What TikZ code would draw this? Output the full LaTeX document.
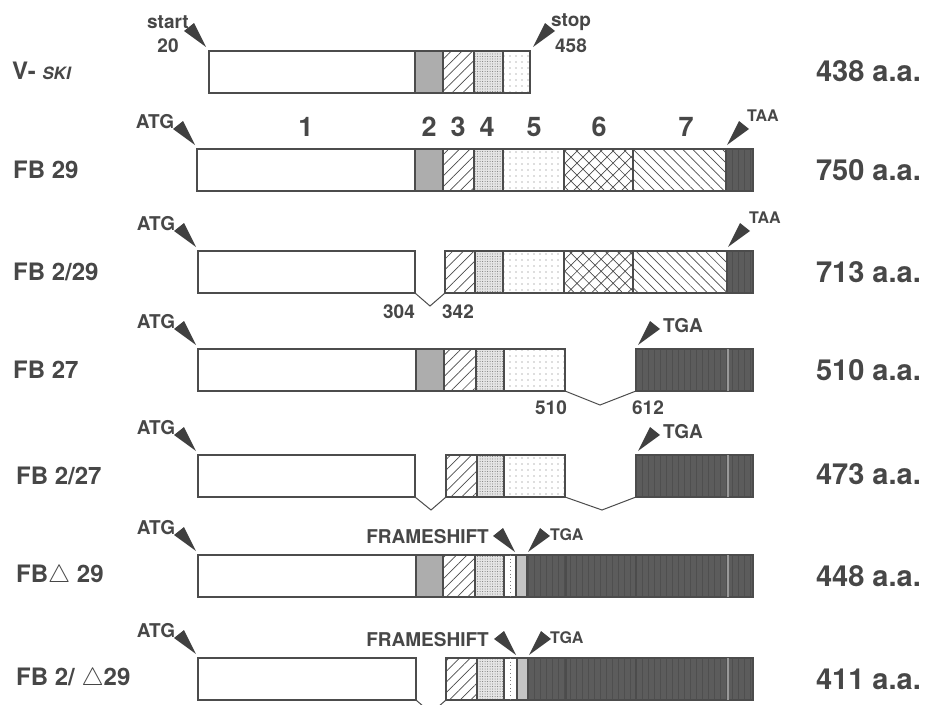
\documentclass[tikz,border=0pt]{standalone}
\usepackage{fontspec}
\setmainfont{TeX Gyre Heros}
\usetikzlibrary{patterns.meta,calc}
\definecolor{ink}{gray}{0.30}
\definecolor{txt}{gray}{0.28}
\definecolor{wedgec}{gray}{0.25}
\tikzset{
 seg/.style={draw=ink, line width=1.1pt, inner sep=0pt, outer sep=0pt, rectangle, anchor=north west, minimum height=42pt},
 whiteseg/.style={seg, fill=white},
 segB/.style={seg, preaction={fill=black!30}, pattern={Dots[distance=2pt, radius=0.45pt]}, pattern color=black!50},
 segC/.style={seg, pattern={Lines[angle=45, distance=7.5pt, line width=0.7pt]}, pattern color=black!70},
 segD/.style={seg, preaction={fill=black!10}, pattern={Dots[distance=2.5pt, radius=0.5pt]}, pattern color=black!55},
 segE/.style={seg, pattern={Dots[distance=6pt, radius=0.6pt]}, pattern color=black!55},
 segF/.style={seg, pattern={Hatch[angle=45, distance=8.5pt, line width=0.7pt]}, pattern color=black!70},
 segG/.style={seg, pattern={Lines[angle=135, distance=7pt, line width=0.7pt]}, pattern color=black!70},
 segX/.style={seg, fill=white},
 segY/.style={seg, preaction={fill=black!20}, pattern={Dots[distance=2pt, radius=0.45pt]}, pattern color=black!55},
 darkseg/.style={seg, preaction={fill=black!64}, pattern={Lines[angle=90, distance=6pt, line width=0.8pt]}, pattern color=black!69},
 divider/.style={draw=black!40, line width=1.3pt},
 dotline/.style={draw=black!50, line width=0.7pt, dash pattern=on 0.7pt off 3pt},
 splice/.style={draw=ink, line width=1pt},
 wedge/.style={fill=wedgec},
 rowlab/.style={anchor=west, font=\fontsize{24}{24}\selectfont\bfseries, text=txt, inner sep=0pt},
 aalab/.style={anchor=east, font=\fontsize{29}{29}\selectfont\bfseries, text=txt, inner sep=0pt},
 numlab/.style={font=\fontsize{27}{27}\selectfont\bfseries, text=txt, inner sep=0pt},
 codon/.style={font=\fontsize{19}{19}\selectfont\bfseries, text=txt, inner sep=0pt},
 smallcodon/.style={font=\fontsize{16}{16}\selectfont\bfseries, text=txt, inner sep=0pt},
 poslab/.style={font=\fontsize{19}{19}\selectfont\bfseries, text=txt, inner sep=0pt},
}
\newcommand\segm[5]{\node[#5, minimum width={(#3-#2)*1pt}] (#1) at (#2,#4) {};}
\newcommand\wdgL[1]{\fill[wedge] (#1) -- ++(-22,-16) -- ++(10,-8) -- cycle;}
\newcommand\wdgR[1]{\fill[wedge] (#1) -- ++(22,-16) -- ++(-10,-8) -- cycle;}
\begin{document}
\begin{tikzpicture}[x=1pt,y=-1pt]
\useasboundingbox (0,0) rectangle (925,704);
\clip (0,0) rectangle (925,704);
\fill[white] (0,0) rectangle (925,704);

% ---------- Row 1: V-SKI
\segm{r1w}{209}{415}{51}{whiteseg}
\segm{r1b}{415}{443}{51}{segB}
\segm{r1c}{443}{474}{51}{segC}
\segm{r1d}{474}{503}{51}{segD}
\segm{r1e}{503}{530}{51}{segE}
\node[rowlab] (l1) at (12,71) {V- {\itshape\fontsize{17}{17}\selectfont SKI}};
\node[aalab] (a1) at (921,71) {438 a.a.};
\node[codon] (st1) at (168,22) {start};
\node[codon] (st2) at (168,46) {20};
\node[codon] (sp1) at (571,22) {stop};
\node[codon] (sp2) at (571,46) {458};
\coordinate (t1a) at (206,47); \wdgL{t1a}
\coordinate (t1b) at (533,47); \wdgR{t1b}

% ---------- Row 2: FB 29
\segm{r2w}{197}{415}{149}{whiteseg}
\segm{r2b}{415}{443}{149}{segB}
\segm{r2c}{443}{474}{149}{segC}
\segm{r2d}{474}{503}{149}{segD}
\segm{r2e}{503}{564}{149}{segE}
\segm{r2f}{564}{633}{149}{segF}
\segm{r2g}{633}{726}{149}{segG}
\segm{r2h}{726}{753}{149}{darkseg}
\node[rowlab] (l2) at (13,170) {FB 29};
\node[aalab] (a2) at (921,170) {750 a.a.};
\node[codon] (atg2) at (155,122) {ATG};
\node[smallcodon, anchor=west] (taa2) at (747,116) {TAA};
\coordinate (t2a) at (195,145); \wdgL{t2a}
\coordinate (t2b) at (727,145); \wdgR{t2b}
\node[numlab] (n1) at (306,127) {1};
\node[numlab] (n2) at (429,127) {2};
\node[numlab] (n3) at (458,127) {3};
\node[numlab] (n4) at (487,127) {4};
\node[numlab] (n5) at (534,127) {5};
\node[numlab] (n6) at (599,127) {6};
\node[numlab] (n7) at (686,127) {7};

% ---------- Row 3: FB 2/29
\segm{r3w}{198}{415}{251}{whiteseg}
\segm{r3c}{445}{475}{251}{segC}
\segm{r3d}{475}{503}{251}{segD}
\segm{r3e}{503}{564}{251}{segE}
\segm{r3f}{564}{633}{251}{segF}
\segm{r3g}{633}{727}{251}{segG}
\segm{r3h}{727}{753}{251}{darkseg}
\coordinate (v3) at (430,306);
\draw[splice] (r3w.south east) -- (v3) -- (r3c.south west);
\node[rowlab] (l3) at (13,272) {FB 2/29};
\node[aalab] (a3) at (921,272) {713 a.a.};
\node[codon] (atg3) at (156,224) {ATG};
\node[smallcodon, anchor=west] (taa3) at (749,218) {TAA};
\coordinate (t3a) at (196,247); \wdgL{t3a}
\coordinate (t3b) at (728,247); \wdgR{t3b}
\node[poslab] (p304) at (399,312) {304};
\node[poslab] (p342) at (458,312) {342};

% ---------- Row 4: FB 27
\segm{r4w}{198}{416}{349}{whiteseg}
\segm{r4b}{416}{444}{349}{segB}
\segm{r4c}{444}{476}{349}{segC}
\segm{r4d}{476}{504}{349}{segD}
\segm{r4e}{504}{565}{349}{segE}
\segm{r4h1}{636}{728}{349}{darkseg}
\segm{r4h2}{728}{753}{349}{darkseg}
\draw[divider] (r4h1.north east) -- (r4h1.south east);
\coordinate (v4) at (600,405);
\draw[splice] (r4e.south east) -- (v4) -- (r4h1.south west);
\node[rowlab] (l4) at (13,370) {FB 27};
\node[aalab] (a4) at (921,370) {510 a.a.};
\node[codon] (atg4) at (156,322) {ATG};
\node[codon] (tga4) at (683,326) {TGA};
\coordinate (t4a) at (196,345); \wdgL{t4a}
\coordinate (t4b) at (638,345); \wdgR{t4b}
\node[poslab] (p510) at (551,408) {510};
\node[poslab] (p612) at (648,408) {612};

% ---------- Row 5: FB 2/27
\segm{r5w}{198}{415}{455}{whiteseg}
\segm{r5c}{446}{477}{455}{segC}
\segm{r5d}{477}{504}{455}{segD}
\segm{r5e}{504}{565}{455}{segE}
\segm{r5h1}{636}{728}{455}{darkseg}
\segm{r5h2}{728}{753}{455}{darkseg}
\draw[divider] (r5h1.north east) -- (r5h1.south east);
\coordinate (v5a) at (431,510);
\coordinate (v5b) at (602,510);
\draw[splice] (r5w.south east) -- (v5a) -- (r5c.south west);
\draw[splice] (r5e.south east) -- (v5b) -- (r5h1.south west);
\node[rowlab] (l5) at (16,476) {FB 2/27};
\node[aalab] (a5) at (921,474) {473 a.a.};
\node[codon] (atg5) at (156,428) {ATG};
\node[codon] (tga5) at (683,432) {TGA};
\coordinate (t5a) at (196,451); \wdgL{t5a}
\coordinate (t5b) at (638,451); \wdgR{t5b}

% ---------- Row 6: FB delta 29
\segm{r6w}{198}{416}{555}{whiteseg}
\segm{r6b}{416}{443}{555}{segB}
\segm{r6c}{443}{475}{555}{segC}
\segm{r6d}{475}{504}{555}{segD}
\segm{r6x}{504}{516}{555}{segX}
\segm{r6y}{516}{527}{555}{segY}
\segm{r6h1}{527}{566}{555}{darkseg}
\segm{r6h2}{566}{636}{555}{darkseg}
\segm{r6h3}{636}{728}{555}{darkseg}
\segm{r6h4}{728}{753}{555}{darkseg}
\draw[dotline] (r6x.north) -- (r6x.south);
\draw[divider] (r6h3.north east) -- (r6h3.south east);
\node[rowlab] (l6) at (16,576) {FB$\triangle$ 29};
\node[aalab] (a6) at (921,576) {448 a.a.};
\node[codon] (atg6) at (156,528) {ATG};
\node[codon, anchor=east] (fs6) at (489,537) {FRAMESHIFT};
\node[smallcodon, anchor=west] (tga6) at (550,535) {TGA};
\coordinate (t6a) at (196,551); \wdgL{t6a}
\coordinate (t6b) at (515,552); \wdgL{t6b}
\coordinate (t6c) at (528,552); \wdgR{t6c}

% ---------- Row 7: FB 2/ delta 29
\segm{r7w}{198}{416}{658}{whiteseg}
\segm{r7c}{446}{477}{658}{segC}
\segm{r7d}{477}{504}{658}{segD}
\segm{r7x}{504}{517}{658}{segX}
\segm{r7y}{517}{528}{658}{segY}
\segm{r7h1}{528}{566}{658}{darkseg}
\segm{r7h2}{566}{636}{658}{darkseg}
\segm{r7h3}{636}{728}{658}{darkseg}
\segm{r7h4}{728}{753}{658}{darkseg}
\draw[dotline] (r7x.north) -- (r7x.south);
\draw[divider] (r7h3.north east) -- (r7h3.south east);
\coordinate (v7) at (431,713);
\draw[splice] (r7w.south east) -- (v7) -- (r7c.south west);
\node[rowlab] (l7) at (16,679) {FB 2/ $\triangle$29};
\node[aalab] (a7) at (921,679) {411 a.a.};
\node[codon] (atg7) at (156,631) {ATG};
\node[codon, anchor=east] (fs7) at (489,640) {FRAMESHIFT};
\node[smallcodon, anchor=west] (tga7) at (550,638) {TGA};
\coordinate (t7a) at (196,654); \wdgL{t7a}
\coordinate (t7b) at (516,655); \wdgL{t7b}
\coordinate (t7c) at (529,655); \wdgR{t7c}
\end{tikzpicture}
\end{document}
